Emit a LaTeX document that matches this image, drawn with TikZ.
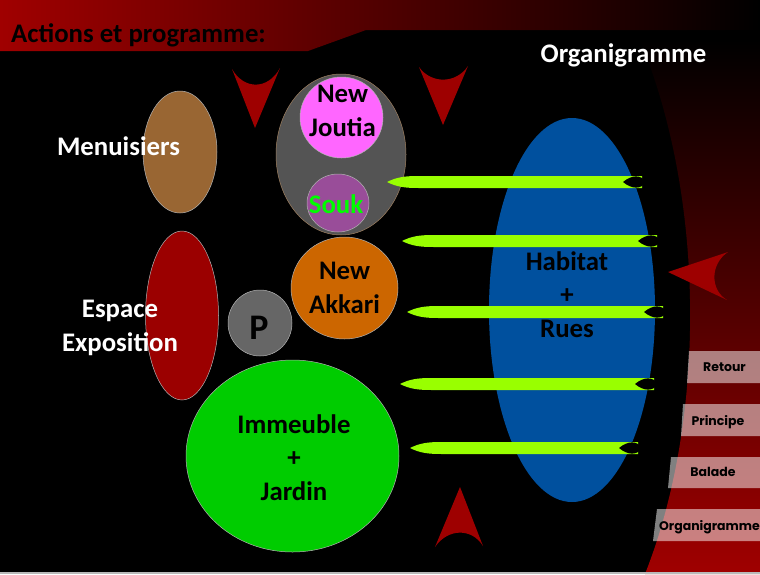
\documentclass[tikz,border=0pt]{standalone}
\usepackage{fontspec}
\setmainfont{Carlito}
\newfontfamily\btnfont{Poppins}
\usetikzlibrary{shapes.geometric}
\definecolor{bannerred}{HTML}{A00000}
\definecolor{panelred}{HTML}{A00000}
\definecolor{arrowred}{HTML}{9E0000}
\definecolor{menbrown}{HTML}{996633}
\definecolor{expored}{HTML}{9B0000}
\definecolor{marchegrey}{HTML}{545454}
\definecolor{joutiapink}{HTML}{FF66FF}
\definecolor{soukviolet}{HTML}{994D99}
\definecolor{soukgreen}{HTML}{00FF00}
\definecolor{akkariorange}{HTML}{CC6600}
\definecolor{parkgrey}{HTML}{666666}
\definecolor{jardingreen}{HTML}{00CC00}
\definecolor{habitatblue}{HTML}{00509E}
\definecolor{spearcol}{HTML}{99FF00}
\def\spear(#1:#2:#3){\fill[spearcol] (#1,#2) .. controls (#1+10,#2-5) and (#1+18,#2-6) .. (#1+32,#2-6) -- (#3,#2-6) -- (#3,#2+6) -- (#1+32,#2+6) .. controls (#1+18,#2+6) and (#1+10,#2+5) .. (#1,#2) -- cycle;
	\fill[black] (#3-19,#2) .. controls (#3-10,#2-7.5) and (#3-1,#2-7.5) .. (#3+4,#2) .. controls (#3-1,#2+7.5) and (#3-10,#2+7.5) .. (#3-19,#2) -- cycle;}

\begin{document}
\begin{tikzpicture}[x=1pt, y=-1pt,
		blob/.style={ellipse, inner sep=0pt, draw=gray!60, line width=0.5pt},
		lbl/.style={font=\bfseries\fontsize{26.8}{33.5}\selectfont, align=center, anchor=base, inner sep=0pt},
		btn/.style={fill=white, fill opacity=0.5},
		btnlbl/.style={font=\btnfont\bfseries\fontsize{12.5}{14}\selectfont, anchor=base, inner sep=0pt},
		redtip/.style={fill=arrowred}]
			%%%%% START %%%%%
			
			\useasboundingbox (0,0) rectangle (760,574);
			\fill[black] (0,0) rectangle (760,574);
			
			\shade[left color=bannerred, right color=black] (0,0) -- (760,0) -- (760,30) -- (366,30) -- (308,51) -- (0,51) -- cycle;
			\shade[top color=black, bottom color=panelred] (640,40) .. controls (706,200) and (706,420) .. (645,574) -- (760,574) -- (760,40) -- cycle;
			
			\node[lbl, anchor=base west, black] (titre) at (11,42) {Actions et programme:};
			\node[lbl, white] (organi) at (623.5,62) {Organigramme};
			
			\fill[redtip] (668,272) -- (728,252) .. controls (710,264) and (710,290) .. (727,300) -- cycle;
			
			\fill[btn] (689,351) -- (760,351) -- (760,383) -- (687,383) -- cycle;
			\node[btnlbl] (retour) at (724.5,371) {Retour};
			\fill[btn] (683,404) -- (760,404) -- (760,436) -- (681,436) -- cycle;
			\node[btnlbl] (principe) at (718,425) {Principe};
			\fill[btn] (671,457) -- (760,457) -- (760,488) -- (668,488) -- cycle;
			\node[btnlbl] (balade) at (713,476) {Balade};
			\fill[btn] (657,509) -- (760,509) -- (760,541) -- (653,541) -- cycle;
			\node[btnlbl] (organigramme) at (709.5,530) {Organigramme};
			
			\fill[redtip] (232,69) -- (255,128) -- (280,68) .. controls (268,90) and (244,90) .. (232,69) -- cycle;
			\fill[redtip] (419,67) -- (443,125) -- (468,66) .. controls (456,84) and (431,84) .. (419,67) -- cycle;
			\fill[redtip] (460,487) -- (483,546) .. controls (472,528) and (448,528) .. (435,547) -- cycle;
			
			\node[blob, fill=menbrown, minimum width=74pt, minimum height=122pt] (menuis) at (180,152) {};
			\node[lbl, white] (menuistxt) at (118.5,155) {Menuisiers};
			
			\node[blob, fill=expored, minimum width=73pt, minimum height=169pt] (expo) at (182,315.5) {};
			\node[lbl, white] (expotxt) at (120,351) {Espace\\Exposition};
			
			\node[blob, fill=marchegrey, draw=brown!50!gray, minimum width=130pt, minimum height=161pt] (marche) at (341,154.5) {};
			\node[blob, fill=joutiapink, minimum width=83pt, minimum height=81pt] (joutia) at (341.5,117.5) {};
			\node[lbl] (joutiatxt) at (342.5,136) {New\\Joutia};
			\node[blob, fill=soukviolet, minimum width=62pt, minimum height=58pt] (souk) at (338,203) {};
			\node[lbl, soukgreen] (souktxt) at (336,213) {Souk};
			
			\node[blob, fill=akkariorange, minimum width=107pt, minimum height=102pt] (akkari) at (344.5,288) {};
			\node[lbl] (akkaritxt) at (344.5,313) {New\\Akkari};
			
			\node[blob, fill=parkgrey, minimum width=64pt, minimum height=66pt] (parking) at (260,323) {};
			\node[lbl, font=\bfseries\fontsize{36}{36}\selectfont] (ptxt) at (259,339) {P};
			
			\node[blob, fill=jardingreen, minimum width=213pt, minimum height=192pt] (immeuble) at (292.5,456) {};
			\node[lbl] (immeubletxt) at (294,500) {Immeuble\\+\\Jardin};
			
			\node[blob, fill=habitatblue, draw=none, minimum width=166pt, minimum height=384pt] (habitat) at (572,310) {};
			\node[lbl] (habitattxt) at (567,337) {Habitat\\+\\Rues};
			
			\spear(387:182:642);
			\spear(402:241:657);
			\spear(407:312:663);
			\spear(400:384:654);
			\spear(410:448:638);
			
			\fill[gray!55] (0,571.5) rectangle (760,574);
			
			%%%%% END %%%%%
		\end{tikzpicture}
\end{document}
